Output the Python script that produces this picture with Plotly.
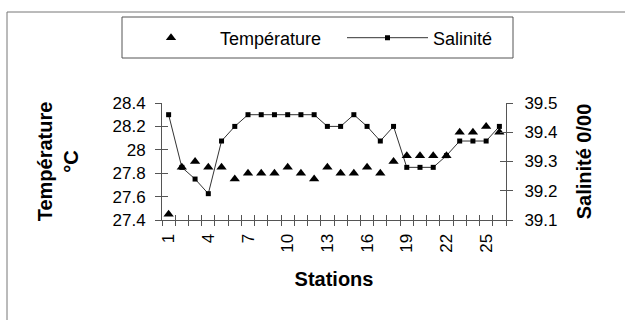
import plotly.graph_objects as go

# ---- data ----
stations = list(range(1, 27))
temperature = [27.45, 27.85, 27.9, 27.85, 27.85, 27.75, 27.8, 27.8, 27.8, 27.85,
               27.8, 27.75, 27.85, 27.8, 27.8, 27.85, 27.8, 27.9, 27.95, 27.95,
               27.95, 27.95, 28.15, 28.15, 28.2, 28.15]
salinite = [39.46, 39.28, 39.24, 39.19, 39.37, 39.42, 39.46, 39.46, 39.46, 39.46,
            39.46, 39.46, 39.42, 39.42, 39.46, 39.42, 39.37, 39.42, 39.28, 39.28,
            39.28, 39.32, 39.37, 39.37, 39.37, 39.42]
station_labels = stations[::3]
temp_ticks = [27.4, 27.6, 27.8, 28.0, 28.2, 28.4]
temp_ticktext = ["27.4", "27.6", "27.8", "28", "28.2", "28.4"]
sal_ticks = [39.1, 39.2, 39.3, 39.4, 39.5]
sal_ticktext = ["39.1", "39.2", "39.3", "39.4", "39.5"]
boundaries = [s - 0.5 for s in stations] + [stations[-1] + 0.5]

temp_range = [temp_ticks[0], temp_ticks[-1]]
sal_range = [sal_ticks[0], sal_ticks[-1]]
x_range = [boundaries[0], boundaries[-1]]

FONT = "Liberation Sans, Arial, sans-serif"
AXC = "#555555"
W, H = 625, 320
ML, MR, MT, MB = 162, 119, 103, 100
PW, PH = W - ML - MR, H - MT - MB


def px_x(p):
    return (p - ML) / PW


def px_y(p):
    return (H - MB - p) / PH


fig = go.Figure()
fig.add_trace(go.Scatter(
    x=stations, y=temperature, name="Température", mode="markers",
    marker=dict(symbol="triangle-up", size=9, color="black"),
    xaxis="x", yaxis="y2", legend="legend"))
fig.add_trace(go.Scatter(
    x=stations, y=salinite, name="Salinité", mode="lines+markers",
    line=dict(color="#333333", width=1),
    marker=dict(symbol="square", size=5, color="black"),
    xaxis="x", yaxis="y", legend="legend2"))
# helper traces so the tick-only overlay axes are drawn
for xa, ya in (("x2", "y"), ("x", "y3"), ("x", "y4")):
    fig.add_trace(go.Scatter(x=[None], y=[None], xaxis=xa, yaxis=ya,
                             showlegend=False, hoverinfo="skip"))

legend_common = dict(orientation="h", xref="container", yref="container",
                     xanchor="left", yanchor="middle", borderwidth=0,
                     bgcolor="rgba(0,0,0,0)", font=dict(size=18), entrywidth=0)

fig.update_layout(
    width=W, height=H,
    margin=dict(l=ML, r=MR, t=MT, b=MB),
    paper_bgcolor="white", plot_bgcolor="white",
    font=dict(family=FONT, color="black", size=17),
    showlegend=True,
    legend=dict(legend_common, x=122 / W, y=1 - 38 / H, itemwidth=88),
    legend2=dict(legend_common, x=342 / W, y=1 - 38 / H, itemwidth=81),
    xaxis=dict(range=x_range, tickmode="array", tickvals=station_labels,
               ticktext=[str(s) for s in station_labels], tickangle=-90,
               ticks="", showgrid=False, zeroline=False,
               showline=True, linecolor=AXC, linewidth=1,
               minor=dict(tickmode="array", tickvals=boundaries, ticks="outside",
                          ticklen=5, tickcolor=AXC, showgrid=False),
               ticklabelstandoff=6,
               title=dict(text="<b>Stations</b>", font=dict(size=20), standoff=20)),
    xaxis2=dict(range=x_range, overlaying="x", anchor="y", side="bottom",
                tickmode="array", tickvals=boundaries, ticks="inside", ticklen=5,
                tickcolor=AXC, showticklabels=False, showgrid=False,
                zeroline=False, showline=False),
    yaxis=dict(range=sal_range, side="right", anchor="x", tickmode="array",
               tickvals=sal_ticks, ticktext=sal_ticktext, ticks="outside",
               ticklen=6, tickcolor=AXC, showgrid=False, zeroline=False,
               showline=True, linecolor=AXC, linewidth=1, ticklabelstandoff=8,
               title=dict(text="<b>Salinité 0/00</b>", font=dict(size=20), standoff=20)),
    yaxis2=dict(range=temp_range, side="left", overlaying="y", anchor="x",
                tickmode="array", tickvals=temp_ticks, ticktext=temp_ticktext,
                ticks="outside", ticklen=6, tickcolor=AXC, showgrid=False,
                zeroline=False, showline=True, linecolor=AXC, linewidth=1,
                ticklabelstandoff=6,
                title=dict(text="<b>Température<br>°C</b>", font=dict(size=20), standoff=28)),
    yaxis3=dict(range=temp_range, side="left", overlaying="y", anchor="x",
                tickmode="array", tickvals=temp_ticks, ticks="inside", ticklen=6,
                tickcolor=AXC, showticklabels=False, showgrid=False,
                zeroline=False, showline=False),
    yaxis4=dict(range=sal_range, side="right", overlaying="y", anchor="x",
                tickmode="array", tickvals=sal_ticks, ticks="inside", ticklen=6,
                tickcolor=AXC, showticklabels=False, showgrid=False,
                zeroline=False, showline=False),
    shapes=[
        # outer chart frame (left and top edges visible, rest cut off)
        dict(type="rect", xref="paper", yref="paper",
             x0=px_x(7), x1=px_x(800), y0=px_y(500), y1=px_y(12),
             line=dict(color="#777777", width=1), layer="below"),
        # legend frame
        dict(type="rect", xref="paper", yref="paper",
             x0=px_x(122), x1=px_x(513), y0=px_y(58), y1=px_y(17),
             line=dict(color="#555555", width=1), layer="below"),
    ],
)

fig.write_html("out.html")
